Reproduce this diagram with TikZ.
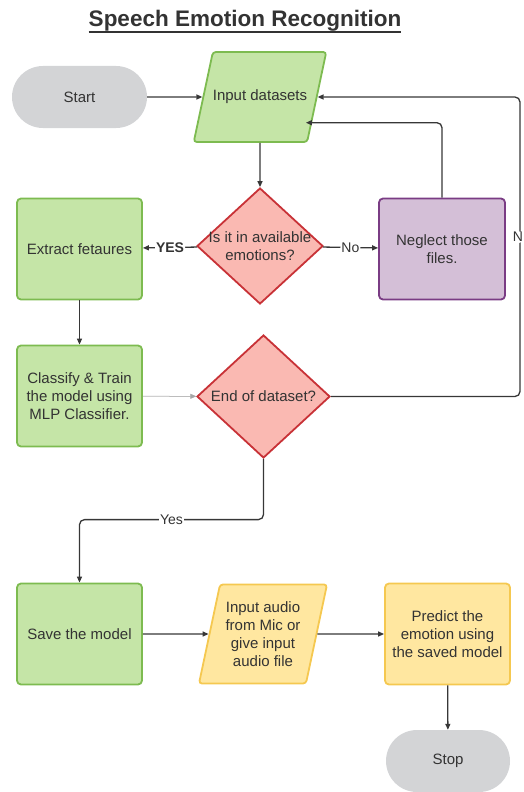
\documentclass[tikz,border=0pt]{standalone}
\usepackage{fontspec}
\setmainfont{Liberation Sans}
\usetikzlibrary{shapes.geometric,arrows.meta,calc}
\definecolor{txtgray}{RGB}{51,51,51}
\definecolor{linegray}{RGB}{55,55,55}
\definecolor{termfill}{RGB}{211,212,214}
\definecolor{grnfill}{RGB}{197,229,167}
\definecolor{grndraw}{RGB}{125,187,80}
\definecolor{redfill}{RGB}{250,185,178}
\definecolor{reddraw}{RGB}{200,50,55}
\definecolor{purfill}{RGB}{212,191,215}
\definecolor{purdraw}{RGB}{122,60,132}
\definecolor{ylwfill}{RGB}{255,231,160}
\definecolor{ylwdraw}{RGB}{245,200,80}

\begin{document}
\begin{tikzpicture}[x=1pt,y=-1pt,font=\fontsize{15}{18}\selectfont,text=txtgray,
  term/.style={rounded corners=31pt,fill=termfill,minimum width=135pt,minimum height=62pt},
  proc/.style={rounded corners=4pt,line width=1.8pt,minimum width=125pt,minimum height=101pt,align=center,inner sep=2pt},
  io/.style={trapezium,trapezium left angle=78,trapezium right angle=102,trapezium stretches body,
    rounded corners=3pt,line width=1.8pt,align=center,inner xsep=0pt},
  dec/.style={diamond,fill=redfill,draw=reddraw,line width=1.8pt,align=center},
  arr/.style={-{Triangle[length=6pt,width=5pt]},line width=1.3pt,draw=linegray,rounded corners=5pt},
  lbl/.style={fill=white,inner sep=1pt,font=\fontsize{14}{16}\selectfont}]
\useasboundingbox (0,0) rectangle (523,792);

\node[inner sep=0pt,font=\fontsize{22.5}{26}\selectfont\bfseries] (title) at (245,21) {Speech Emotion Recognition};
\draw[line width=1.8pt,txtgray] ([yshift=-5.5pt]title.base west) -- ([yshift=-5.5pt]title.base east);

% top row
\node[term] (start) at (79.5,97) {Start};
\node[io,fill=grnfill,draw=grndraw,minimum width=120pt,inner ysep=38pt] (indata) at (260,97) {Input datasets};

% first decision
\node[dec,minimum width=126pt,minimum height=116pt,inner sep=-7pt] (avail) at (260,246) {Is it in available\\emotions?};
\node[proc,fill=grnfill,draw=grndraw] (extract) at (79.5,249) {Extract fetaures};
\node[proc,fill=purfill,draw=purdraw,minimum width=126pt] (neglect) at (442,249) {Neglect those\\files.};

% training
\node[proc,fill=grnfill,draw=grndraw] (classify) at (79.5,396) {Classify \& Train\\the model using\\MLP Classifier.};
\node[dec,minimum width=133pt,minimum height=123pt,inner sep=0pt] (dend) at (263.5,396.5) {End of dataset?};

% bottom row
\node[proc,fill=grnfill,draw=grndraw] (save) at (79.5,634) {Save the model};
\node[io,fill=ylwfill,draw=ylwdraw,minimum width=128pt,inner ysep=17pt] (inaudio) at (263,634) {Input audio\\from Mic or\\give input\\audio file};
\node[proc,fill=ylwfill,draw=ylwdraw] (predict) at (447.5,634) {Predict the\\emotion using\\the saved model};
\node[term,minimum width=124pt] (stop) at (448,761) {Stop};

\coordinate (rgt) at (520,97);

% connectors
\draw[arr] (start) -- (indata);
\draw[arr] (indata) -- (avail);
\draw[arr] (avail) -- node[lbl,font=\fontsize{14}{16}\selectfont\bfseries]{YES} (extract);
\draw[arr] (avail) -- node[lbl]{No} (neglect);
\draw[arr] (neglect.north) |- ($(indata.north east)!0.78!(indata.south east)$);
\draw[arr] (dend.east) -| node[lbl,pos=0.766,xshift=-2pt]{N} (rgt) -- (indata);
\draw[arr] (extract) -- (classify);
\draw[-{Triangle[length=6pt,width=5pt]},line width=0.5pt,draw=gray!70,fill=linegray] (classify) -- (dend);
\draw[arr] (dend.south) |- node[lbl,pos=0.75]{Yes} ($(save.north)+(0,-63)$) -- (save.north);
\draw[arr] (save) -- (inaudio);
\draw[arr] (inaudio) -- (predict);
\draw[arr] (predict) -- (stop);
\end{tikzpicture}
\end{document}
